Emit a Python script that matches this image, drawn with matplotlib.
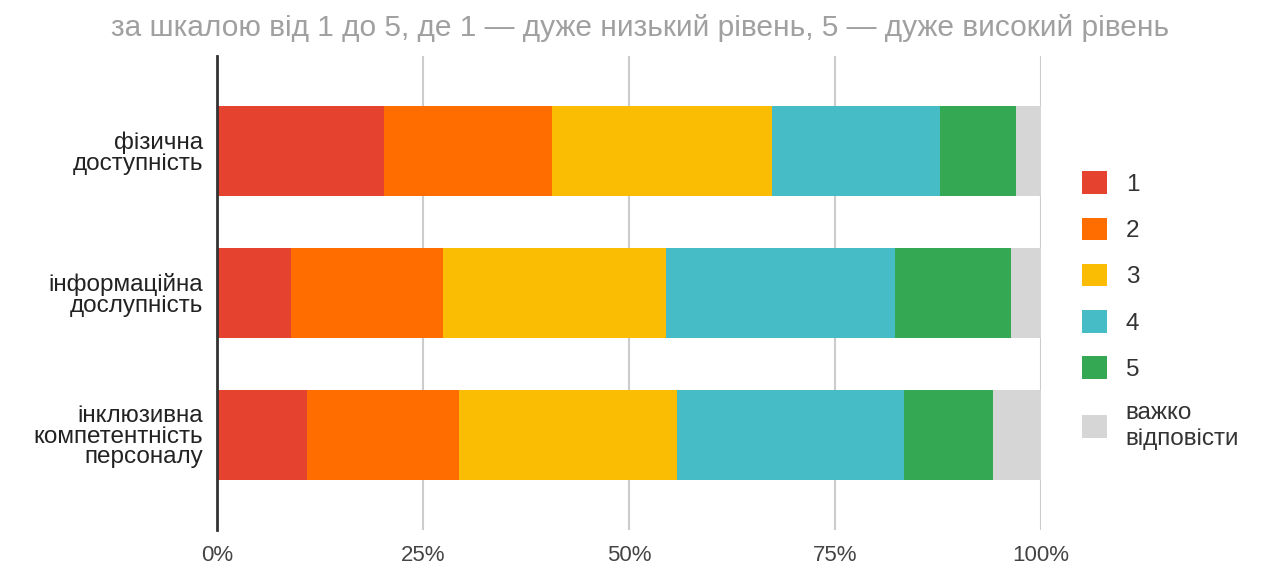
import matplotlib.pyplot as plt
import numpy as np

plt.rcParams['font.family'] = ['Liberation Sans', 'DejaVu Sans']

# дані (частки, %)
categories = ['фізична\nдоступність', 'інформаційна\nдослупність',
              'інклюзивна\nкомпетентність\nперсоналу']
series_labels = ['1', '2', '3', '4', '5', 'важко\nвідповісти']
values = [
    [20.2, 20.5, 26.6, 20.4, 9.2, 3.1],
    [9.0, 18.4, 27.1, 27.8, 14.0, 3.7],
    [10.9, 18.4, 26.5, 27.5, 10.9, 5.8],
]
colors = ['#E5432F', '#FF6D01', '#FBBC04', '#46BDC6', '#34A853', '#D6D6D6']
title = 'за шкалою від 1 до 5, де 1 — дуже низький рівень, 5 — дуже високий рівень'
xticks = [0, 25, 50, 75, 100]

data = np.array(values)
y = np.arange(len(categories))

fig = plt.figure(figsize=(12.62, 5.73), dpi=100)
ax = fig.add_axes([0.172, 0.075, 0.653, 0.827])

# складені горизонтальні стовпці
left = np.zeros(len(categories))
handles = []
for i, lab in enumerate(series_labels):
    bars = ax.barh(y, data[:, i], left=left, height=0.635, color=colors[i],
                   label=lab, zorder=3)
    handles.append(bars)
    left += data[:, i]

ax.set_xlim(0, 100)
ax.set_ylim(2.67, -0.67)
ax.set_xticks(xticks)
ax.set_xticklabels([f'{t}%' for t in xticks], fontsize=16, color='#444444')
ax.set_yticks(y)
ax.set_yticklabels(categories, fontsize=17.5, color='#222222', linespacing=0.92)
ax.tick_params(axis='both', length=0)
ax.tick_params(axis='x', pad=11)
ax.tick_params(axis='y', pad=10)
ax.grid(axis='x', color='#cccccc', linewidth=1.5, zorder=0)
for s in ['top', 'right', 'bottom']:
    ax.spines[s].set_visible(False)
ax.spines['left'].set_color('#333333')
ax.spines['left'].set_linewidth(2)
ax.spines['left'].set_zorder(4)

fig.text(0.507, 0.952, title, ha='center', va='center', fontsize=21.5, color='#a0a0a0')

leg = ax.legend(handles=handles, loc='center left', bbox_to_anchor=(0.84, 0.458),
                bbox_transform=fig.transFigure, frameon=False, fontsize=17.5,
                handlelength=1.05, handleheight=1.05, labelspacing=0.89,
                handletextpad=0.75)
for t in leg.get_texts():
    t.set_color('#333333')

plt.savefig('out.png', dpi=100)
